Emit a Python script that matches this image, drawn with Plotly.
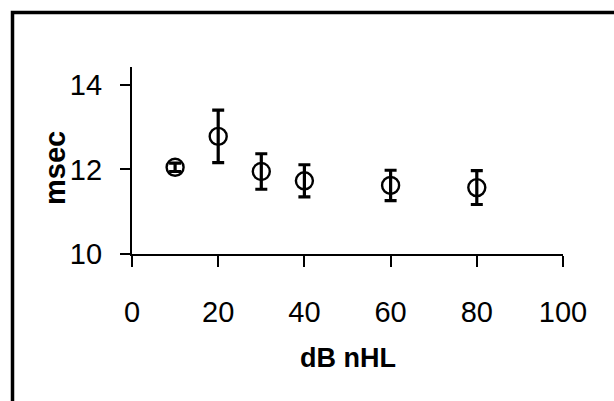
import plotly.graph_objects as go

# Data
db_nhl = [10, 20, 30, 40, 60, 80]
msec = [12.05, 12.78, 11.95, 11.73, 11.62, 11.57]
err = [0.10, 0.62, 0.42, 0.38, 0.36, 0.40]
x_ticks = [0, 20, 40, 60, 80, 100]
y_ticks = [10, 12, 14]

FONT = "Liberation Sans"

fig = go.Figure()
fig.add_trace(go.Scatter(
    x=db_nhl, y=msec, mode="markers",
    marker=dict(symbol="circle-open", size=17, color="black", line=dict(width=2.4, color="black")),
    error_y=dict(type="data", array=err, visible=True, color="black", thickness=3.2, width=6),
    showlegend=False,
))

L, R, T, B = 132, 51, 67, 147
fig.update_layout(
    width=614, height=401,
    margin=dict(l=L, r=R, t=T, b=B, pad=0),
    paper_bgcolor="white", plot_bgcolor="white",
    font=dict(family=FONT, color="black"),
    xaxis=dict(range=[0, 100], tickvals=x_ticks, showline=True, linecolor="black", linewidth=2.2,
               ticks="outside", ticklen=11, tickwidth=2.2, tickcolor="black", showgrid=False,
               zeroline=False, tickfont=dict(size=29, family=FONT, color="black"),
               ticklabelstandoff=20),
    yaxis=dict(range=[10, 14.42], tickvals=y_ticks, showline=True, linecolor="black", linewidth=2.2,
               ticks="outside", ticklen=10, tickwidth=2.2, tickcolor="black", showgrid=False,
               zeroline=False, tickfont=dict(size=29, family=FONT, color="black"),
               ticklabelstandoff=12),
)

pw = 614 - L - R
ph = 401 - T - B
def px(x):
    return (x - L) / pw
def py(y):
    return (401 - B - y) / ph

fig.add_annotation(text="<b>msec</b>", x=px(55), y=py(168), xref="paper", yref="paper",
                   showarrow=False, textangle=-90, font=dict(size=29, family=FONT, color="black"),
                   xanchor="center", yanchor="middle")
fig.add_annotation(text="<b>dB nHL</b>", x=px(348), y=py(358), xref="paper", yref="paper",
                   showarrow=False, font=dict(size=27, family=FONT, color="black"),
                   xanchor="center", yanchor="middle")

fig.add_shape(type="rect", xref="paper", yref="paper",
              x0=px(12.5), y0=py(12.5), x1=px(700), y1=py(500),
              line=dict(color="black", width=3.5), fillcolor="rgba(0,0,0,0)", layer="above")

fig.write_html("out.html", config={"displayModeBar": False},
               post_script="document.body.style.margin='0';document.body.style.overflow='hidden';")
